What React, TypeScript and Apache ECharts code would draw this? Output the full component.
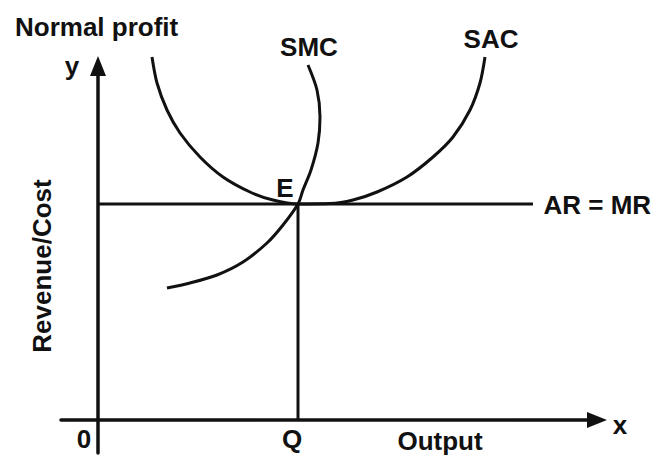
import React, { useEffect, useRef } from 'react';
import * as echarts from 'echarts';

const FONT = '"Liberation Sans", Arial, Helvetica, sans-serif';
const INK = '#111111';

// Axis extents (data units)
const xMin = -1.85;
const xMax = 24.95;
const yMin = -1.65;
const yMax = 17.7;

// Equilibrium
const qOutput = 10;
const arLevel = 10.8;
const arEnd = 21.75;

// Short-run average cost curve (U-shaped)
const sacCurve: [number, number][] = [
  [2.7, 18.15], [2.95, 16.85], [3.45, 15.5], [4.1, 14.35], [5.1, 13.15],
  [6.25, 12.15], [7.6, 11.4], [8.75, 11.0], [10.0, 10.8], [11.6, 10.82],
  [12.75, 11.0], [13.95, 11.4], [15.45, 12.15], [16.75, 13.15], [17.75, 14.15],
  [18.6, 15.5], [19.1, 16.85], [19.35, 18.15],
];

// Short-run marginal cost curve (bends back at the top)
const smcCurve: [number, number][] = [
  [3.45, 6.6], [4.6, 6.85], [5.95, 7.25], [7.25, 7.9], [8.45, 8.85],
  [9.25, 9.75], [10.0, 10.8], [10.25, 11.5], [10.65, 12.5], [11.0, 13.85],
  [11.1, 15.15], [10.95, 16.5], [10.5, 17.75],
];

const arLine: [number, number][] = [[0, arLevel], [arEnd, arLevel]];
const qLine: [number, number][] = [[qOutput, 0], [qOutput, arLevel]];

const FS = 26;
const FW = 'bold';
const textStyle = { fontFamily: FONT, fontSize: FS, fontWeight: FW, color: INK };
const gfont = `${FW} ${FS}px ${FONT}`;

export default function App() {
  const ref = useRef<HTMLDivElement>(null);
  useEffect(() => {
    const chart = echarts.init(ref.current!, null, { renderer: 'svg' });
    const lbl = (value: [number, number], formatter: string, position: string, offset: number[], distance = 5) => ({
      value,
      label: { show: true, formatter, position, offset, distance, opacity: 1, ...textStyle },
    });
    const axisCommon = {
      axisTick: { show: false }, axisLabel: { show: false }, splitLine: { show: false },
    };
    const axisLine = { onZero: true, symbol: ['none', 'triangle'], symbolSize: [16, 20], lineStyle: { color: INK, width: 3.5 } };
    chart.setOption({
      animation: false,
      backgroundColor: '#ffffff',
      title: {
        text: 'Normal profit',
        left: 10,
        top: 9,
        textStyle: { ...textStyle },
      },
      grid: { left: 61, right: 66, top: 66, bottom: 8 },
      xAxis: { type: 'value', min: xMin, max: xMax, axisLine, ...axisCommon },
      yAxis: { type: 'value', min: yMin, max: yMax, axisLine, ...axisCommon },
      graphic: [
        { type: 'text', x: 72, y: 66, style: { text: 'y', fill: INK, align: 'center', verticalAlign: 'middle', font: gfont } },
        { type: 'text', x: 620, y: 425, style: { text: 'x', fill: INK, align: 'center', verticalAlign: 'middle', font: gfont } },
        { type: 'text', x: 440, y: 441, style: { text: 'Output', fill: INK, align: 'center', verticalAlign: 'middle', font: gfont } },
        { type: 'text', x: 42, y: 266, rotation: Math.PI / 2, style: { text: 'Revenue/Cost', fill: INK, align: 'center', verticalAlign: 'middle', font: gfont } },
      ],
      series: [
        { type: 'line', name: 'SAC', data: sacCurve, smooth: 0.3, showSymbol: false, symbol: 'none', clip: false, lineStyle: { color: INK, width: 3 } },
        { type: 'line', name: 'SMC', data: smcCurve, smooth: 0.3, showSymbol: false, symbol: 'none', clip: false, lineStyle: { color: INK, width: 3 } },
        { type: 'line', name: 'AR = MR', data: arLine, showSymbol: false, symbol: 'none', clip: false, lineStyle: { color: INK, width: 3 } },
        { type: 'line', name: 'Q', data: qLine, showSymbol: false, symbol: 'none', clip: false, lineStyle: { color: INK, width: 3 } },
        {
          type: 'scatter', name: 'labels', symbolSize: 1, clip: false,
          itemStyle: { color: 'rgba(0,0,0,0)', opacity: 1 },
          data: [
            lbl(smcCurve[smcCurve.length - 1], 'SMC', 'top', [1, 0]),
            lbl(sacCurve[sacCurve.length - 1], 'SAC', 'top', [6, 0]),
            lbl(arLine[1], 'AR = MR', 'right', [0, 1], 10),
            lbl([qOutput, arLevel], 'E', 'top', [-13, 2]),
            lbl([qOutput, 0], 'Q', 'bottom', [-6, 0]),
            lbl([0, 0], '0', 'bottom', [-14, 0]),
          ],
        },
      ],
    });
    return () => chart.dispose();
  }, []);
  return <div ref={ref} style={{ position: 'absolute', left: 0, top: 0, width: 663, height: 461 }} />;
}
